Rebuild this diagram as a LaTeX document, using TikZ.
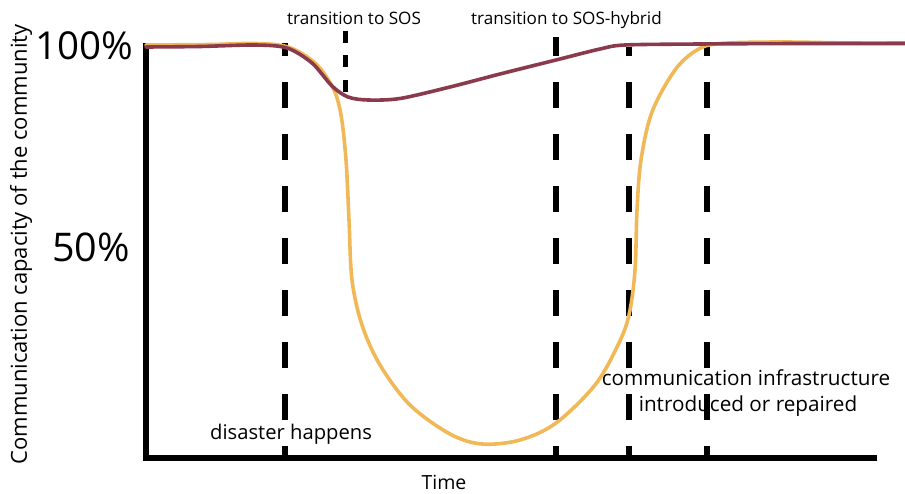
\documentclass[tikz,border=0pt]{standalone}
\usepackage{fontspec}
\setmainfont{Open Sans}
\definecolor{infraorange}{HTML}{F1B857}
\definecolor{sosmaroon}{HTML}{8B3A4C}
\begin{document}
\begin{tikzpicture}[x=1pt,y=-1pt,
  axisline/.style={line width=5.5pt},
  phase/.style={line width=5.5pt, dash pattern=on 26pt off 26pt},
  sosphase/.style={line width=5pt, dash pattern=on 12pt off 12.5pt},
  curve/.style={line width=3.6pt, line cap=round, line join=round},
  lbl/.style={inner sep=0pt, font=\fontsize{#1}{#1}\selectfont}]
\useasboundingbox (0,0) rectangle (905,494);

% labels
\node[lbl=38.5, anchor=base east] (p100) at (133,60) {100\%};
\node[lbl=39.5, anchor=base east] (p50) at (130,262) {50\%};
\node[lbl=17.1, anchor=base west] (tsos) at (287,25) {transition to SOS};
\node[lbl=17.1, anchor=base west] (thyb) at (471,25) {transition to SOS-hybrid};
\node[lbl=20.2, anchor=base west] (dis) at (210,439) {disaster happens};
\node[lbl=20.7, anchor=base] (infra1) at (746,385) {communication infrastructure};
\node[lbl=20.7, anchor=base] (infra2) at (748,411) {introduced or repaired};
\node[lbl=19.5, anchor=base] (time) at (444,489) {Time};
\node[lbl=22, rotate=90, anchor=base] (ylab) at (27,244.5) {Communication capacity of the community};

% phase markers
\coordinate (d1t) at (285,43);  \coordinate (d1b) at (285,458);
\coordinate (d2t) at (345,31);  \coordinate (d2b) at (345,94);
\coordinate (d3t) at (556,37);  \coordinate (d3b) at (556,458);
\coordinate (d4t) at (629,47);  \coordinate (d4b) at (629,458);
\coordinate (d5t) at (707,47);  \coordinate (d5b) at (707,458);
\draw[phase, dash phase=13pt] (d1t) -- (d1b);
\draw[sosphase] (d2t) -- (d2b);
\draw[phase, dash phase=7pt] (d3t) -- (d3b);
\draw[phase, dash phase=17pt] (d4t) -- (d4b);
\draw[phase, dash phase=17pt] (d5t) -- (d5b);

% axes
\coordinate (origin) at (146,458);
\coordinate (ytop) at (146,43);
\coordinate (xend) at (877,458);
\draw[axisline] (ytop) -- (origin) -- (xend);

% capacity without SOS (infrastructure only)
\draw[curve, infraorange] plot[smooth, tension=0.55] coordinates {
  (146,45) (210,44.5) (255,43.5) (288,47) (315,63) (333,88) (341,115)
  (346,160) (349,220) (352,280) (362,325) (380,365) (410,405) (450,434)
  (482,444) (520,440) (556,423) (595,385) (618,345) (629,315) (635,270)
  (637,210) (641,160) (652,112) (675,70) (697,50) (720,43.5) (780,42) (850,43) (905,43)};

% capacity with SOS
\draw[curve, sosmaroon] plot[smooth, tension=0.5] coordinates {
  (146,47) (200,46.5) (255,45) (287,48) (312,63) (332,86) (348,97)
  (368,100) (400,98.5) (450,87) (500,74) (556,60) (600,49) (625,45)
  (700,44) (800,43.5) (905,43.5)};
\end{tikzpicture}
\end{document}
